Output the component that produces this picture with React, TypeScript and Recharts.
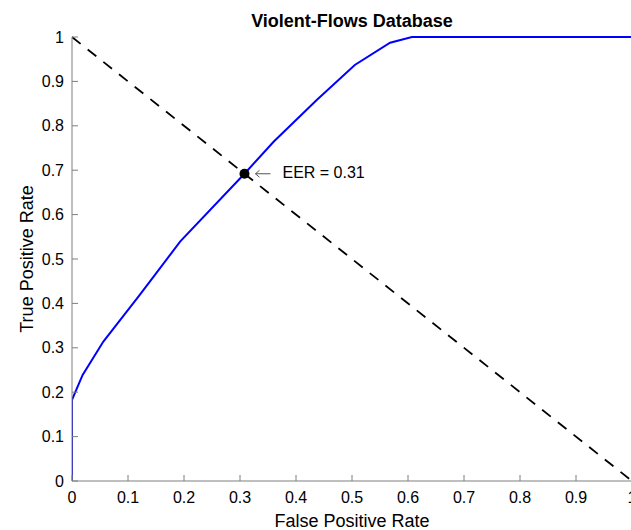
import React from 'react';
import { ComposedChart, Line, Scatter, XAxis, YAxis } from 'recharts';

const rocFpr = [0, 0, 0.019, 0.056, 0.121, 0.193, 0.308, 0.36, 0.437, 0.505, 0.568, 0.607, 1.0];
const rocTpr = [0, 0.183, 0.239, 0.314, 0.419, 0.539, 0.692, 0.764, 0.858, 0.937, 0.987, 1.0, 1.0];
const diagFpr = [0, 1];
const diagTpr = [1, 0];
const eerFpr = [0.308];
const eerTpr = [0.692];
const axisTicks = [0, 0.1, 0.2, 0.3, 0.4, 0.5, 0.6, 0.7, 0.8, 0.9, 1];
const titleText = 'Violent-Flows Database';
const xLabel = 'False Positive Rate';
const yLabel = 'True Positive Rate';
const eerLabel = 'EER = 0.31';

const rocData = rocFpr.map((x, i) => ({ x, y: rocTpr[i] }));
const diagData = diagFpr.map((x, i) => ({ x, y: diagTpr[i] }));
const eerData = eerFpr.map((x, i) => ({ x, y: eerTpr[i] }));

const FONT = '"Liberation Sans", Arial, Helvetica, sans-serif';
const AXIS_COLOR = '#7f7f7f';

const EmptyTick = () => <g />;

const EerShape = (props: any) => {
  const { cx, cy } = props;
  return (
    <g>
      <circle cx={cx} cy={cy} r={5} fill="#000" />
      <path
        d={`M ${cx + 26} ${cy} L ${cx + 11} ${cy} M ${cx + 15} ${cy - 3.5} L ${cx + 11} ${cy} L ${cx + 15} ${cy + 3.5}`}
        stroke="#555"
        strokeWidth={1}
        fill="none"
      />
      <text x={cx + 38} y={cy + 4} fontSize={16} fontFamily={FONT} fill="#000">
        {eerLabel}
      </text>
    </g>
  );
};

export default function App() {
  const W = 632;
  const H = 530;
  return (
    <div style={{ position: 'absolute', left: 0, top: 0, width: 631, height: 530, overflow: 'hidden', background: '#fff' }}>
      <ComposedChart width={W} height={H} margin={{ top: 37, right: 0, bottom: 0, left: 0 }}>
        <XAxis
          xAxisId={0}
          dataKey="x"
          type="number"
          domain={[0, 1]}
          ticks={axisTicks}
          height={49}
          stroke={AXIS_COLOR}
          tickSize={-6}
          tickMargin={17}
          tick={{ fill: '#000', fontSize: 16, fontFamily: FONT }}
          interval={0}
          allowDataOverflow
          label={{
            content: (p: any) => {
              const vb = p.viewBox;
              return (
                <text x={vb.x + vb.width / 2} y={vb.y + vb.height - 3} textAnchor="middle" fontSize={18} fontFamily={FONT} fill="#000">
                  {xLabel}
                </text>
              );
            },
          }}
        />
        <XAxis
          xAxisId="top"
          orientation="top"
          dataKey="x"
          type="number"
          domain={[0, 1]}
          ticks={axisTicks}
          height={0}
          stroke={AXIS_COLOR}
          tickSize={-6}
          tick={<EmptyTick />}
          interval={0}
        />
        <YAxis
          yAxisId={0}
          type="number"
          domain={[0, 1]}
          ticks={axisTicks}
          width={72}
          stroke={AXIS_COLOR}
          tickSize={-6}
          tickMargin={14}
          tick={{ fill: '#000', fontSize: 16, fontFamily: FONT }}
          interval={0}
          label={{
            content: (p: any) => {
              const vb = p.viewBox;
              const cx = 33;
              const cy = vb.y + vb.height / 2;
              return (
                <text x={cx} y={cy} transform={`rotate(-90 ${cx} ${cy})`} textAnchor="middle" fontSize={18} fontFamily={FONT} fill="#000">
                  {yLabel}
                </text>
              );
            },
          }}
        />
        <YAxis
          yAxisId="right"
          orientation="right"
          type="number"
          domain={[0, 1]}
          ticks={axisTicks}
          width={0}
          stroke={AXIS_COLOR}
          tickSize={-6}
          tick={<EmptyTick />}
          interval={0}
        />
        <Line
          data={rocData}
          dataKey="y"
          type="linear"
          stroke="#0000ff"
          strokeWidth={2}
          dot={false}
          activeDot={false}
          isAnimationActive={false}
        />
        <Line
          data={diagData}
          dataKey="y"
          type="linear"
          stroke="#000"
          strokeWidth={1.8}
          strokeDasharray="11 9"
          dot={false}
          activeDot={false}
          isAnimationActive={false}
        />
        <Scatter data={eerData} dataKey="y" shape={<EerShape />} isAnimationActive={false} />
      </ComposedChart>
      <svg width={631} height={40} style={{ position: 'absolute', left: 0, top: 0, pointerEvents: 'none' }}>
        <text x={352} y={27} textAnchor="middle" fontSize={18} fontWeight="bold" fontFamily={FONT} fill="#000">
          {titleText}
        </text>
      </svg>
    </div>
  );
}
